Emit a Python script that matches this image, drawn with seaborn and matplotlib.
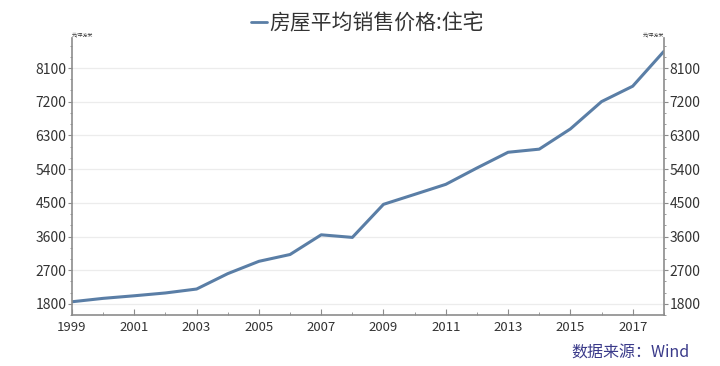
import matplotlib
matplotlib.use("Agg")
import matplotlib.pyplot as plt
import seaborn as sns
import pandas as pd
from matplotlib.lines import Line2D
from matplotlib.ticker import MultipleLocator

years = [1999, 2000, 2001, 2002, 2003, 2004, 2005, 2006, 2007, 2008,
         2009, 2010, 2011, 2012, 2013, 2014, 2015, 2016, 2017, 2018]
price = [1857, 1948, 2017, 2092, 2197, 2608, 2937, 3119, 3645, 3576,
         4459, 4725, 4993, 5430, 5850, 5933, 6473, 7203, 7614, 8544]
y_ticks = [1800, 2700, 3600, 4500, 5400, 6300, 7200, 8100]
x_ticks = [1999, 2001, 2003, 2005, 2007, 2009, 2011, 2013, 2015, 2017]
series_name = "房屋平均销售价格:住宅"
unit = "元/平方米"
source = "数据来源：Wind"

df = pd.DataFrame({"year": years, "price": price})

sns.set_style("white")
plt.rcParams['font.family'] = ['Noto Sans CJK SC', 'DejaVu Sans']

line_color = "#5a7ea6"
axis_color = "#8c8c8c"

fig = plt.figure(figsize=(7.2, 3.66), dpi=100)
ax = fig.add_axes([0.1, 0.139, 0.822, 0.757])

sns.lineplot(data=df, x="year", y="price", ax=ax, color=line_color, linewidth=2.2)

ax.set_xlim(1999, 2018)
ax.set_ylim(1500, 8900)
ax.set_yticks(y_ticks)
ax.set_xticks(x_ticks)
ax.xaxis.set_minor_locator(MultipleLocator(1))
ax.yaxis.set_minor_locator(MultipleLocator(300))
ax.set_xlabel("")
ax.set_ylabel("")

ax.grid(axis="y", color="#ececec", linewidth=0.9)
ax.set_axisbelow(True)

ax.spines["top"].set_visible(False)
for s in ["left", "right", "bottom"]:
    ax.spines[s].set_color(axis_color)
    ax.spines[s].set_linewidth(1.2)

ax.tick_params(axis="y", which="major", left=True, right=True, labelleft=True,
               labelright=True, direction="out", length=3, color=axis_color,
               labelsize=10, labelcolor="#333333", pad=1)
ax.tick_params(axis="y", which="minor", left=True, right=True, direction="out",
               length=1.5, color=axis_color)
ax.tick_params(axis="x", which="major", bottom=True, direction="in", length=4,
               color=axis_color, labelsize=9.5, labelcolor="#333333", pad=4)
ax.tick_params(axis="x", which="minor", bottom=True, direction="in", length=2,
               color=axis_color)

ax.text(0.0, 1.0, unit, transform=ax.transAxes, fontsize=3.5, color="#333333",
        ha="left", va="bottom")
ax.text(1.0, 1.0, unit, transform=ax.transAxes, fontsize=3.5, color="#333333",
        ha="right", va="bottom")

handle = Line2D([], [], color=line_color, linewidth=2)
fig.legend([handle], [series_name], loc="center", bbox_to_anchor=(0.51, 0.935),
           frameon=False, fontsize=15, handlelength=0.8, handletextpad=0.1,
           labelcolor="#333333")

fig.text(0.958, 0.035, source, ha="right", va="center", fontsize=11.5,
         color="#3a3a8a")

fig.savefig("out.png", dpi=100)
